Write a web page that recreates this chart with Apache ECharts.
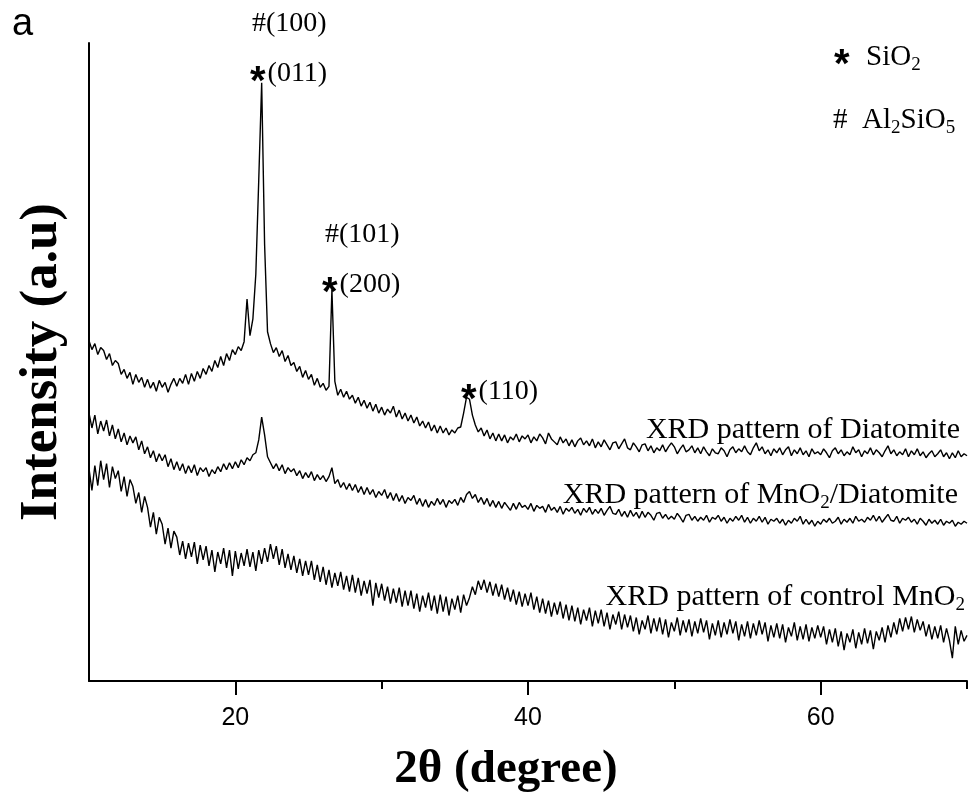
<!DOCTYPE html>
<html><head><meta charset="utf-8">
<script src="https://cdn.jsdelivr.net/npm/echarts@6/dist/echarts.min.js"></script>
<style>html,body{margin:0;padding:0;background:#fff}#c{width:973px;height:798px}</style>
</head><body><div id="c"></div>
<script>
// 2θ grid: start 10°, step 0.2° (301 points, 10° .. 70°)
const thetaStart = 10;
const thetaStep = 0.2;

const diatomite = [
343,334,340,329,336, 333,324,330,318,323, 320,309,314,305,311, 299,309,301,306,296,
304,295,301,292,303, 296,301,291,299,305, 297,305,300,309,299, 310,302,312,305,315,
309,318,312,323,316, 327,318,330,323,334, 329,337,333,342,385, 348,365,410,505,603,
440,352,340,331,336, 327,333,322,328,318, 321,312,317,306,313, 304,309,298,305,296,
300,293,297,394,302, 288,294,286,292,284, 288,280,286,277,283, 275,281,272,279,270,
276,268,274,270,277, 266,273,264,270,262, 268,260,266,257,262, 255,261,252,258,250,
257,250,255,248,253, 250,255,256,270,286, 284,268,258,251,255, 247,253,244,250,242,
249,242,248,240,246, 243,249,241,247,244, 248,240,246,242,249, 245,239,250,244,241,
238,246,240,244,237, 243,236,242,245,238, 242,237,244,235,241, 236,243,238,233,240,
241,234,239,244,235, 233,240,236,231,238, 239,232,237,230,235, 232,238,231,236,240,
236,229,234,238,231, 233,237,230,235,229, 236,231,227,234,230, 229,235,232,226,233,
236,230,234,231,237, 231,228,235,240,232, 236,229,233,227,234, 230,235,228,233,236,
227,233,229,235,228, 232,226,234,229,231, 228,234,230,225,232, 235,229,233,227,231,
228,236,230,233,226, 232,229,235,228,233, 230,226,232,237,229, 233,227,231,228,234,
226,232,228,234,227, 231,225,229,232,226, 229,233,226,230,224, 230,225,232,226,229,
227];

const mno2Diatomite = [
270,255,268,249,262, 252,263,247,258,244, 254,241,250,238,247, 240,246,233,242,229,
236,225,232,221,229, 222,228,216,224,213, 221,212,219,209,217, 210,218,207,215,211,
215,206,213,209,216, 211,219,213,220,214, 221,215,223,218,225, 222,228,230,243,266,
248,226,220,214,219, 212,218,209,215,211, 214,207,212,204,210, 205,211,202,208,203,
207,201,206,215,199, 203,195,200,193,199, 192,198,190,196,188, 195,188,193,185,191,
187,193,184,190,182, 189,181,187,179,185, 182,187,178,184,176, 183,175,181,177,184,
178,183,175,182,179, 183,177,185,180,188, 191,184,188,180,185, 178,184,176,182,175,
181,174,180,176,172, 179,173,180,175,177, 173,179,171,177,174, 176,170,178,172,175,
170,176,168,174,171, 175,169,173,167,174, 170,175,168,173,169, 174,167,172,176,169,
168,173,166,171,165, 172,166,170,164,171, 165,170,167,162,169, 170,164,168,163,166,
163,169,165,160,167, 168,162,166,161,165, 162,167,160,165,163, 167,161,165,159,164,
161,166,162,167,160, 165,159,164,161,166, 160,165,158,163,161, 164,159,163,157,162,
159,164,161,166,158, 163,158,162,156,161, 158,163,160,164,159, 161,165,158,163,160,
164,159,166,161,163, 160,165,162,167,161, 166,160,164,168,162, 161,166,159,164,162,
165,160,163,158,164, 161,157,163,159,162, 158,163,157,161,159, 162,156,160,158,161,
159];

const controlMnO2 = [
214,192,217,197,222, 203,219,195,216,204, 212,191,206,186,203, 196,179,190,170,186,
175,155,170,148,165, 158,138,154,134,151, 145,127,141,123,139, 125,140,118,137,122,
136,116,132,110,130, 118,134,114,132,106, 131,113,129,116,133, 115,130,111,132,118,
134,120,138,123,136, 117,133,114,128,112, 126,109,123,106,121, 107,121,102,117,100,
115,97,112,94,109, 96,110,92,106,90, 107,89,104,86,101, 88,102,76,99,84,
98,81,95,78,93, 79,94,75,91,76, 91,73,88,70,86, 74,89,71,86,68,
87,70,85,66,83, 72,86,69,87,76, 84,95,87,101,92, 102,89,100,86,98,
85,97,82,94,80, 92,77,90,75,88, 76,89,72,85,69, 83,68,81,65,79,
67,80,63,77,61, 76,60,74,57,72, 61,74,55,71,58, 72,55,69,52,67,
57,70,52,67,54, 66,50,64,47,61, 52,66,48,63,50, 64,47,62,44,59,
50,64,46,61,49, 62,45,60,48,63, 49,61,42,58,46, 61,44,59,47,62,
48,60,41,57,45, 60,43,58,46,61, 47,59,40,56,44, 58,43,57,39,54,
45,59,41,55,42, 57,40,54,43,56, 44,55,37,52,39, 53,35,50,31,48,
39,52,33,49,37, 53,38,51,32,50, 41,54,39,56,44, 59,47,63,50,64,
52,65,49,62,51, 60,45,57,42,55, 43,56,39,53,41, 23,55,37,51,40,
46];

const xTickLabels = [20, 40, 60];
const xMinorTicks = [30, 50, 70];

const angles = diatomite.map((_, i) => +(thetaStart + i * thetaStep).toFixed(1));
const toPairs = ys => ys.map((y, i) => [angles[i], y]);

const SERIF = "'Liberation Serif','Times New Roman',serif";
const SANS = "'Liberation Sans',Arial,sans-serif";

const ast = { fontFamily: SANS, fontSize: 40, fontWeight: 'bold', color: '#000', padding: [18, 2, 0, 0] };
const sub = { fontFamily: SERIF, fontSize: 19, fontWeight: 'normal', color: '#000', padding: [16, 0, 0, 0] };
const pk = { fontFamily: SERIF, fontSize: 28, fontWeight: 'normal', color: '#000' };
const leg = { fontFamily: SERIF, fontSize: 29, fontWeight: 'normal', color: '#000' };
const lbl = { fontFamily: SERIF, fontSize: 30, fontWeight: 'normal', color: '#000' };

function note(text, pos, base) {
  return Object.assign({ text, padding: 0, textStyle: Object.assign({}, base, { rich: { a: ast, s: sub, t: base } }) }, pos);
}

const chart = echarts.init(document.getElementById('c'), null, { renderer: 'canvas' });
chart.setOption({
  animation: false,
  backgroundColor: '#fff',
  grid: { left: 89, right: 6, top: 43, bottom: 112 },
  title: [
    { text: 'a', left: 12, top: 6, padding: 0, textStyle: { fontFamily: SANS, fontSize: 38, fontWeight: 'normal', color: '#000' } },
    note('#(100)', { left: 252, top: 10 }, pk),
    note('{a|*}(011)', { left: 250, top: 45 }, pk),
    note('#(101)', { left: 325, top: 221 }, pk),
    note('{a|*}(200)', { left: 322, top: 256 }, pk),
    note('{a|*}(110)', { left: 461, top: 363 }, pk),
    note('{a|*}  SiO{s|2}', { left: 834, top: 28 }, leg),
    note('#  Al{s|2}SiO{s|5}', { left: 833, top: 103 }, leg),
    note('XRD pattern of Diatomite', { right: 13, top: 415 }, lbl),
    note('XRD pattern of MnO{s|2}/Diatomite', { right: 15, top: 478 }, lbl),
    note('XRD pattern of control MnO{s|2}', { right: 8, top: 580 }, lbl)
  ],
  xAxis: [{
    type: 'value', min: 10, max: 70,
    name: '2θ (degree)', nameLocation: 'middle', nameGap: 65,
    nameTextStyle: { fontFamily: SERIF, fontSize: 47, fontWeight: 'bold', color: '#000', padding: [0, 44, 0, 0] },
    axisLine: { lineStyle: { color: '#000', width: 2 } },
    axisTick: { customValues: xTickLabels, length: 14, inside: false, lineStyle: { color: '#000', width: 2 } },
    axisLabel: { customValues: xTickLabels, margin: 25, fontFamily: SANS, fontSize: 25, color: '#000' },
    splitLine: { show: false }
  }, {
    type: 'value', min: 10, max: 70, position: 'bottom',
    axisLine: { show: false },
    axisTick: { customValues: xMinorTicks, length: 8, inside: false, lineStyle: { color: '#000', width: 2 } },
    axisLabel: { show: false },
    splitLine: { show: false }
  }],
  yAxis: {
    type: 'value', min: 0, max: 643,
    name: 'Intensity (a.u)', nameLocation: 'middle', nameGap: 20,
    nameTextStyle: { fontFamily: SERIF, fontSize: 53, fontWeight: 'bold', color: '#000' },
    axisLine: { show: true, lineStyle: { color: '#000', width: 2 } },
    axisTick: { show: false }, axisLabel: { show: false }, splitLine: { show: false }
  },
  series: [
    { name: 'XRD pattern of Diatomite', type: 'line', data: toPairs(diatomite) },
    { name: 'XRD pattern of MnO2/Diatomite', type: 'line', data: toPairs(mno2Diatomite) },
    { name: 'XRD pattern of control MnO2', type: 'line', data: toPairs(controlMnO2) }
  ].map(s => Object.assign(s, { showSymbol: false, symbol: 'none', lineStyle: { color: '#000', width: 1.4 }, silent: true }))
});
</script></body></html>
